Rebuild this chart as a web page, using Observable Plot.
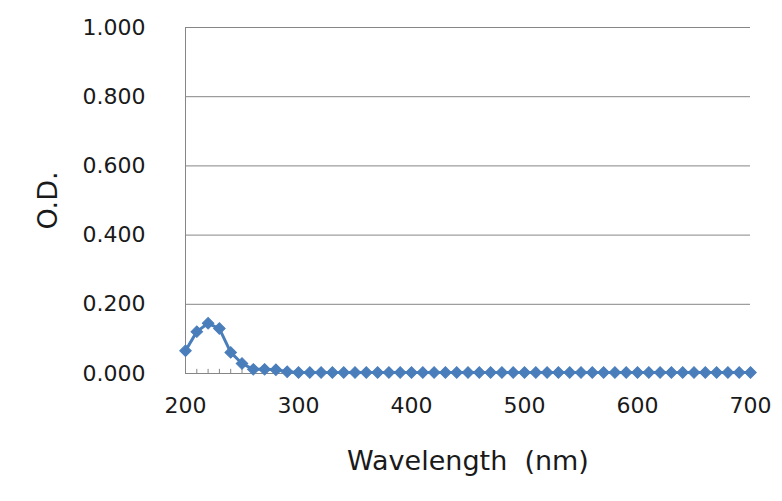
<!DOCTYPE html>
<html>
<head>
<meta charset="utf-8">
<script src="https://cdn.jsdelivr.net/npm/d3@7"></script>
<script src="https://cdn.jsdelivr.net/npm/@observablehq/plot@0.6"></script>
<style>
  html, body { margin: 0; padding: 0; background: #fff; }
  #chart svg { display: block; }
</style>
</head>
<body>
<div id="chart"></div>
<script>
// Wavelength (nm), every 10 nm from 200 to 700
const wavelengths = [200,210,220,230,240,250,260,270,280,290,300,310,320,330,340,350,360,370,380,390,400,
  410,420,430,440,450,460,470,480,490,500,510,520,530,540,550,560,570,580,590,600,
  610,620,630,640,650,660,670,680,690,700];
// Optical density readings
const od = [0.066,0.121,0.145,0.130,0.061,0.029,0.012,0.012,0.011,0.005,0.003,0.003,0.003,0.003,0.003,0.003,0.003,0.003,0.003,0.003,0.003,
  0.003,0.003,0.003,0.003,0.003,0.003,0.003,0.003,0.003,0.003,0.003,0.003,0.003,0.003,0.003,0.003,0.003,0.003,0.003,0.003,
  0.003,0.003,0.003,0.003,0.003,0.003,0.003,0.003,0.003,0.003];
const xTicks = [200,300,400,500,600,700];
const yTicks = [0,0.2,0.4,0.6,0.8,1.0];

const data = wavelengths.map((w, i) => ({w, od: od[i]}));
const color = "#4a7ebb";
const gray = "#868686";

const chart = Plot.plot({
  width: 782,
  height: 501,
  marginLeft: 185,
  marginRight: 32,
  marginTop: 27,
  marginBottom: 128,
  style: {fontFamily: "DejaVu Sans", fontSize: "22px", color: "#1a1a1a", background: "#fff"},
  x: {domain: [200, 700]},
  y: {domain: [0, 1]},
  marks: [
    Plot.gridY(yTicks, {stroke: gray, strokeOpacity: 1, strokeWidth: 1}),
    Plot.ruleX([200], {y1: 0, y2: 1, stroke: gray, strokeWidth: 1}),
    Plot.ruleX(wavelengths, {x: d => d, y1: 0, y2: 0.012, stroke: gray, strokeWidth: 1}),
    Plot.axisY(yTicks, {tickFormat: d3.format(".3f"), tickSize: 0, tickPadding: 40, fontSize: 22, label: null}),
    Plot.axisY({label: "O.D.", labelAnchor: "center", labelOffset: 148, labelArrow: "none", fontSize: 27, ticks: [], tickSize: 0}),
    Plot.axisX(xTicks, {tickFormat: d => String(d), tickSize: 0, tickPadding: 24, fontSize: 22, label: null}),
    Plot.axisX({label: "Wavelength  (nm)", labelAnchor: "center", labelOffset: 96, labelArrow: "none", fontSize: 27, ticks: [], tickSize: 0}),
    Plot.line(data, {x: "w", y: "od", stroke: color, strokeWidth: 3}),
    Plot.dot(data, {x: "w", y: "od", symbol: "square", rotate: 45, fill: color, stroke: color, strokeWidth: 1, r: 4.6})
  ]
});
document.getElementById("chart").appendChild(chart);
</script>
</body>
</html>
